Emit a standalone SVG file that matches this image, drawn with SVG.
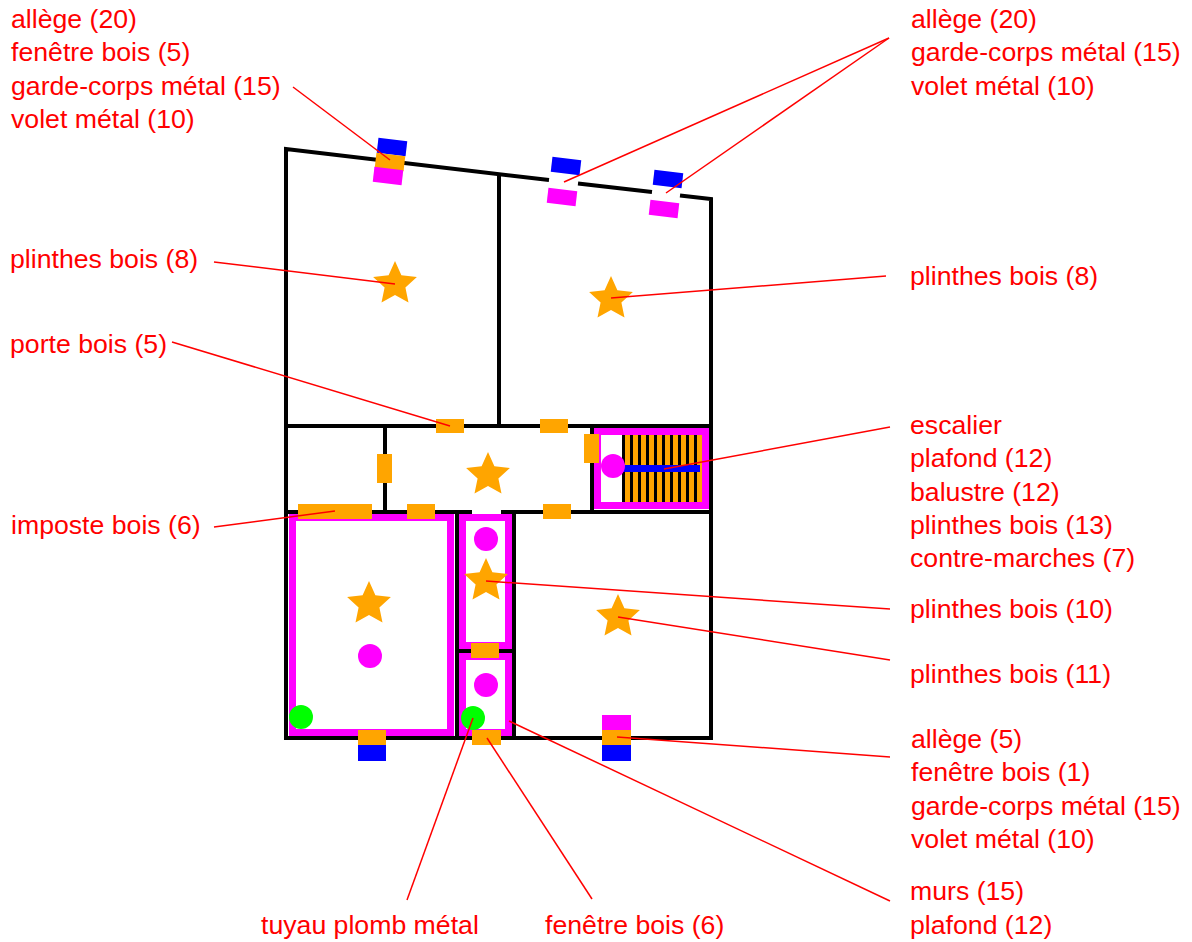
<svg xmlns="http://www.w3.org/2000/svg" width="1192" height="942" viewBox="0 0 1192 942">
<style>
text{font-family:"Liberation Sans",Arial,sans-serif;font-size:26.67px;fill:#f00}
.w{stroke:#000;stroke-width:4;fill:none;stroke-linecap:butt;stroke-linejoin:miter}
.d{fill:#ffa500}.m{fill:#f0f}.b{fill:#00f}.g{fill:#0f0}
.l{stroke:#f00;stroke-width:1.5;fill:none}
.f{fill:#fff;stroke:#f0f;stroke-width:7}
</style>
<defs>
<polygon id="star" class="d" points="0,-23 6.4,-8.8 21.9,-7.1 10.4,3.400 13.5,18.6 0,10.9 -13.5,18.6 -10.4,3.400 -21.9,-7.1 -6.4,-8.8"/>
<rect id="tw" x="-14.5" y="-7.5" width="29" height="15"/>
</defs>
<rect width="1192" height="942" fill="#fff"/>
<g id="rooms">
<rect class="f" x="292.500" y="517.500" width="158" height="215"/>
<rect class="f" x="462.500" y="517.500" width="46" height="128"/>
<rect class="f" x="462.500" y="656.500" width="46" height="76"/>
<rect class="f" x="597.500" y="431.500" width="108" height="74"/>
</g>
<g id="walls">
<path class="w" d="M549,180 L286,149 V738 H711 V199 L680,195.400 M652,192.100 L578,183.400 M499,175 V426 M286,426 H711 M385,426 V512 M286,512 H472 M501,512 H711 M457,512 V738 M514,512 V738 M457,651 H514 M592,426 V512"/>
</g>
<g id="stairs">
<rect class="d" x="622" y="435" width="80" height="67"/>
<path d="M623.500,435V502M631.500,435V502M639.500,435V502M647.500,435V502M655.500,435V502M663.500,435V502M671.500,435V502M679.500,435V502M687.500,435V502M695.500,435V502" stroke="#000" stroke-width="3" fill="none"/>
<rect class="b" x="622" y="465" width="78" height="7"/>
<circle class="m" cx="613" cy="466" r="12"/>
</g>
<g id="doors">
<rect class="d" x="436" y="419" width="28" height="14"/>
<rect class="d" x="540" y="419" width="28" height="14"/>
<rect class="d" x="377" y="454" width="15" height="29"/>
<rect class="d" x="584" y="434" width="15" height="29"/>
<rect class="d" x="298" y="504" width="74" height="15"/>
<rect class="d" x="407" y="504" width="28" height="15"/>
<rect class="d" x="543" y="504" width="28" height="15"/>
<rect class="d" x="471" y="643" width="28" height="15"/>
<rect class="d" x="472" y="730" width="29" height="15"/>
</g>
<g id="window-top-left">
<use href="#tw" class="b" transform="translate(392,147) rotate(6.7)"/>
<use href="#tw" class="d" transform="translate(390,162) rotate(6.7)"/>
<use href="#tw" class="m" transform="translate(388,176) rotate(6.7)"/>
</g>
<g id="window-top-mid">
<use href="#tw" class="b" transform="translate(566,166) rotate(6.7)"/>
<use href="#tw" class="m" transform="translate(562,197) rotate(6.7)"/>
</g>
<g id="window-top-right">
<use href="#tw" class="b" transform="translate(668,179) rotate(6.7)"/>
<use href="#tw" class="m" transform="translate(664,209) rotate(6.7)"/>
</g>
<g id="window-bottom-left">
<rect class="d" x="358" y="730" width="28" height="15"/>
<rect class="b" x="358" y="745" width="28" height="16"/>
</g>
<g id="window-bottom-right">
<rect class="m" x="602" y="715" width="29" height="15"/>
<rect class="d" x="602" y="730" width="29" height="15"/>
<rect class="b" x="602" y="745" width="29" height="16"/>
</g>
<g id="stars">
<use href="#star" x="395" y="284"/>
<use href="#star" x="611" y="299"/>
<use href="#star" x="488" y="475"/>
<use href="#star" x="369" y="604"/>
<use href="#star" x="486" y="581"/>
<use href="#star" x="618" y="617"/>
</g>
<g id="circles">
<circle class="m" cx="486" cy="539" r="12"/>
<circle class="m" cx="370" cy="656" r="12"/>
<circle class="m" cx="486" cy="685" r="12"/>
<circle class="g" cx="301" cy="717" r="12"/>
<circle class="g" cx="473" cy="718" r="12"/>
</g>
<g id="connectors">
<path class="l" d="M293,87L390,160"/>
<path class="l" d="M889,38L564,182"/>
<path class="l" d="M889,38L666,193"/>
<path class="l" d="M214,262L395,284"/>
<path class="l" d="M886,276L611,298"/>
<path class="l" d="M172,342L450,426"/>
<path class="l" d="M890,427L664,469"/>
<path class="l" d="M214,527L335,511"/>
<path class="l" d="M890,609L486,581"/>
<path class="l" d="M890,660L618,617"/>
<path class="l" d="M890,757L617,737"/>
<path class="l" d="M407,900L473,718"/>
<path class="l" d="M592,899L487,738"/>
<path class="l" d="M890,901L509,721"/>
</g>
<g id="labels">
<text x="11" y="28">allège (20)</text>
<text x="11" y="61">fenêtre bois (5)</text>
<text x="11" y="95">garde-corps métal (15)</text>
<text x="11" y="128">volet métal (10)</text>
<text x="911" y="28">allège (20)</text>
<text x="911" y="61">garde-corps métal (15)</text>
<text x="911" y="95">volet métal (10)</text>
<text x="10" y="268">plinthes bois (8)</text>
<text x="910" y="285">plinthes bois (8)</text>
<text x="10" y="353">porte bois (5)</text>
<text x="910" y="434">escalier</text>
<text x="910" y="467">plafond (12)</text>
<text x="910" y="501">balustre (12)</text>
<text x="910" y="534">plinthes bois (13)</text>
<text x="910" y="567">contre-marches (7)</text>
<text x="11" y="534">imposte bois (6)</text>
<text x="910" y="618">plinthes bois (10)</text>
<text x="910" y="683">plinthes bois (11)</text>
<text x="911" y="748">allège (5)</text>
<text x="911" y="781">fenêtre bois (1)</text>
<text x="911" y="815">garde-corps métal (15)</text>
<text x="911" y="848">volet métal (10)</text>
<text x="261" y="934">tuyau plomb métal</text>
<text x="545" y="934">fenêtre bois (6)</text>
<text x="910" y="900">murs (15)</text>
<text x="910" y="934">plafond (12)</text>
</g>
</svg>
